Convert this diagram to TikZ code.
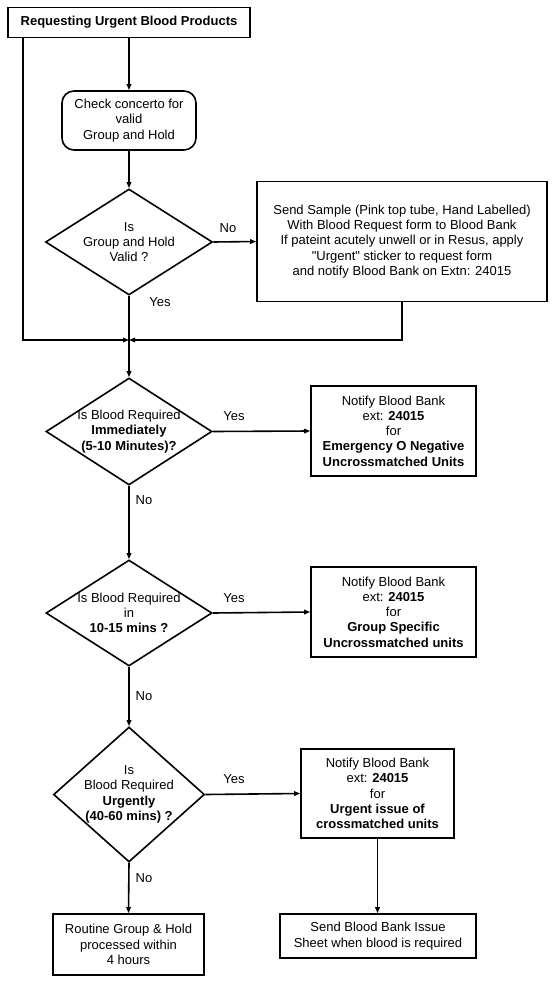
\documentclass[tikz,border=0pt]{standalone}
\usepackage{fontspec}
\setmainfont{Liberation Sans}
\usetikzlibrary{shapes.geometric,arrows.meta}
\begin{document}
\begin{tikzpicture}[x=1pt,y=-1pt,
  every node/.style={font=\fontsize{13}{15.3}\selectfont, inner sep=0pt},
  box/.style={draw, line width=1.6pt, inner sep=0pt},
  dia/.style={draw, diamond, line width=1.6pt, inner sep=0pt},
  txt/.style={align=center},
  lab/.style={anchor=center},
  arr/.style={line width=1.6pt, -{Triangle[length=6pt,width=4.5pt]}},
  ln/.style={line width=1.6pt}]
\useasboundingbox (0,0) rectangle (552,983);
\node[box, minimum width=242pt, minimum height=30pt] (title) at (129,22.5)
  {\textbf{Requesting Urgent Blood Products}};
\node[box, rounded corners=12pt, minimum width=134pt, minimum height=59pt, txt] (check) at (129,120.5)
  {Check concerto for\\valid\\Group and Hold};
\node[dia, minimum width=167pt, minimum height=106pt] (d1) at (129,242) {};
\node[txt] at (d1) {Is\\Group and Hold\\Valid ?};
\node[box, minimum width=290pt, minimum height=120pt, txt] (send) at (402,241.5)
  {Send Sample (Pink top tube, Hand Labelled)\\With Blood Request form to Blood Bank\\If pateint acutely unwell or in Resus, apply\\\textquotedbl Urgent\textquotedbl{} sticker to request form\\and notify Blood Bank on Extn: 24015};
\coordinate (m) at (129,340);
\coordinate (lft) at (23,340);
\coordinate (rgt) at (402,340);
\node[dia, minimum width=166pt, minimum height=107pt] (d2) at (129,431.5) {};
\node[txt] at (d2) {Is Blood Required\\\textbf{Immediately}\\\textbf{(5-10 Minutes)?}};
\node[box, minimum width=165pt, minimum height=90pt, txt] (b2) at (393.5,431)
  {Notify Blood Bank\\ext: \textbf{24015}\\for\\\textbf{Emergency O Negative}\\\textbf{Uncrossmatched Units}};
\node[dia, minimum width=166pt, minimum height=106pt] (d3) at (129,613) {};
\node[txt] at (d3) {Is Blood Required\\in\\\textbf{10-15 mins ?}};
\node[box, minimum width=165pt, minimum height=90pt, txt] (b3) at (393.5,612)
  {Notify Blood Bank\\ext: \textbf{24015}\\for\\\textbf{Group Specific}\\\textbf{Uncrossmatched units}};
\node[dia, minimum width=151pt, minimum height=135pt] (d4) at (129,794.5) {};
\node[txt] at (d4) {Is\\Blood Required\\\textbf{Urgently}\\\textbf{(40-60 mins) ?}};
\node[box, minimum width=153pt, minimum height=89pt, txt] (b4) at (377.5,793.5)
  {Notify Blood Bank\\ext: \textbf{24015}\\for\\\textbf{Urgent issue of}\\\textbf{crossmatched units}};
\node[box, minimum width=151pt, minimum height=61pt, txt] (b5) at (128.5,944.5)
  {Routine Group \& Hold\\processed within\\4 hours};
\node[box, minimum width=196pt, minimum height=44pt, txt] (b6) at (378,936)
  {Send Blood Bank Issue\\Sheet when blood is required};
% connectors
\draw[arr] (title.south) -- (check.north);
\draw[arr] (check.south) -- (d1.north);
\draw[arr] (d1.east) -- (send.west);
\draw[ln] (d1.south) -- (m);
\draw[arr] (title.south -| lft) -- (lft) -- (m);
\draw[arr] (send.south -| rgt) -- (rgt) -- (m);
\draw[arr] (m) -- (d2.north);
\draw[arr] (d2.east) -- (b2.west);
\draw[arr] (d2.south) -- (d3.north);
\draw[arr] (d3.east) -- (b3.west);
\draw[arr] (d3.south) -- (d4.north);
\draw[arr] (d4.east) -- (b4.west);
\draw[arr] (d4.south) -- (b5.north);
\draw[arr] (b4.south) -- (b6.north -| b4.south);
% labels
\node[lab] at (228,228) {No};
\node[lab] at (160,302) {Yes};
\node[lab] at (234,416) {Yes};
\node[lab] at (144,500) {No};
\node[lab] at (234,598) {Yes};
\node[lab] at (144,696) {No};
\node[lab] at (234,779) {Yes};
\node[lab] at (144,878) {No};
\end{tikzpicture}
\end{document}
